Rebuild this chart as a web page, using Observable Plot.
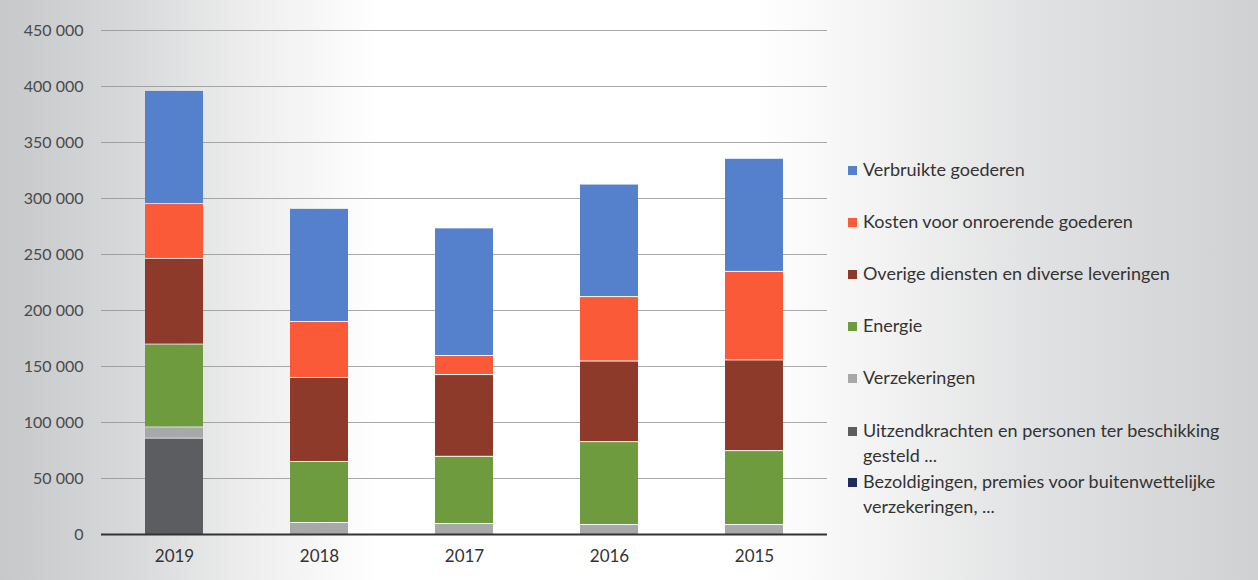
<!DOCTYPE html>
<html>
<head>
<meta charset="utf-8">
<script src="https://cdn.jsdelivr.net/npm/d3@7"></script>
<script src="https://cdn.jsdelivr.net/npm/@observablehq/plot@0.6"></script>
<style>
  html, body { margin: 0; padding: 0; }
  #wrap {
    position: relative; width: 1258px; height: 580px; overflow: hidden;
    background: linear-gradient(90deg, #c6c8ca 0%, #d6d8d9 10%, #eeeeee 20%, #ffffff 30%, #ffffff 60%, #f3f3f3 70%, #e1e2e3 82%, #cfd1d3 100%);
    font-family: Lato, "Open Sans", sans-serif;
  }
  #legend { position: absolute; left: 848px; top: 0; width: 400px; font-size: 18px; color: #333; }
  .item { position: absolute; left: 0; display: flex; align-items: flex-start; line-height: 25px; }
  .sw { width: 9px; height: 9px; margin-top: 9px; margin-right: 6px; flex: none; }
</style>
</head>
<body>
<div id="wrap"><div id="legend"></div></div>
<script>
const years = ["2019", "2018", "2017", "2016", "2015"];
// series listed bottom-to-top in the stack
const series = [
  "Bezoldigingen, premies voor buitenwettelijke verzekeringen, ...",
  "Uitzendkrachten en personen ter beschikking gesteld ...",
  "Verzekeringen",
  "Energie",
  "Overige diensten en diverse leveringen",
  "Kosten voor onroerende goederen",
  "Verbruikte goederen"
];
const colors = ["#1f2a5e", "#5b5d60", "#a6a8aa", "#6f9b3f", "#8e3a2a", "#fb5a38", "#5580cc"];
const bezoldigingen = [0, 0, 0, 0, 0];
const uitzendkrachten = [86000, 0, 0, 0, 0];
const verzekeringen = [10000, 10700, 9800, 8900, 8900];
const energie = [74000, 54500, 60000, 74000, 66000];
const overige = [76500, 75000, 73000, 72000, 81000];
const kosten = [49000, 50000, 17000, 57500, 79000];
const verbruikte = [101000, 101000, 114000, 100500, 101000];
const yTicks = [0, 50000, 100000, 150000, 200000, 250000, 300000, 350000, 400000, 450000];

const valuesBySeries = [bezoldigingen, uitzendkrachten, verzekeringen, energie, overige, kosten, verbruikte];
const data = [];
series.forEach((s, i) => years.forEach((y, j) => data.push({year: y, series: s, value: valuesBySeries[i][j]})));

const fmt = d => d3.format(",")(d).replace(/,/g, " ");

const chart = Plot.plot({
  width: 1258,
  height: 580,
  marginLeft: 101,
  marginRight: 431,
  marginTop: 30,
  marginBottom: 46,
  style: {background: "transparent", fontFamily: "Lato, 'Open Sans', sans-serif", fontSize: "16px", color: "#4a4a4a"},
  x: {domain: years, paddingInner: 0.6, paddingOuter: 0.3, label: null, tickSize: 0, tickPadding: 15},
  y: {domain: [0, 450000], ticks: yTicks, tickFormat: fmt, label: null, tickSize: 0, tickPadding: 18},
  color: {domain: series, range: colors},
  marks: [
    Plot.ruleY(yTicks.filter(d => d > 0), {stroke: "#8e8e8e", strokeWidth: 1.2, strokeOpacity: 0.75}),
    Plot.barY(data, Plot.stackY({x: "year", y: "value", fill: "series", insetTop: 1})),
    Plot.ruleY([0], {stroke: "#333", strokeWidth: 2})
  ]
});
document.getElementById("wrap").prepend(chart);
chart.style.position = "absolute"; chart.style.left = "0"; chart.style.top = "0";
// larger, darker year labels
chart.querySelectorAll('g[aria-label="x-axis tick label"] text').forEach(t => { t.style.fontSize = "17px"; t.style.fill = "#333"; });

const legendOrder = [6, 5, 4, 3, 2, 1, 0];
const legendTops = [157, 209, 261, 313, 365, 418, 469];
const legend = document.getElementById("legend");
legendOrder.forEach((si, k) => {
  const item = document.createElement("div");
  item.className = "item";
  item.style.top = legendTops[k] + "px";
  const sw = document.createElement("div");
  sw.className = "sw";
  sw.style.background = colors[si];
  const tx = document.createElement("div");
  tx.style.width = "372px";
  tx.textContent = series[si];
  item.append(sw, tx);
  legend.append(item);
});
</script>
</body>
</html>
